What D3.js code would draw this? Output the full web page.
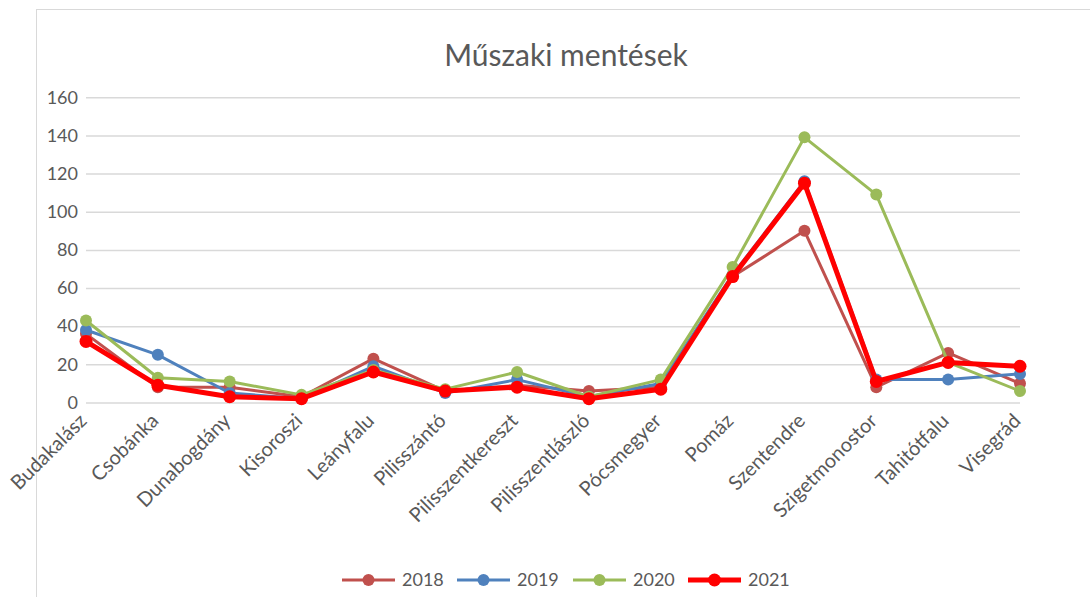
<!DOCTYPE html>
<html>
<head>
<meta charset="utf-8">
<script src="https://cdn.jsdelivr.net/npm/d3@7"></script>
<style>
  body { margin: 0; background: #fff; }
  text { font-family: Lato, "Open Sans", sans-serif; fill: #595959; }
</style>
</head>
<body>
<div id="chart"></div>
<script>
"use strict";

// chart data
const towns = ["Budakalász", "Csobánka", "Dunabogdány", "Kisoroszi", "Leányfalu", "Pilisszántó",
    "Pilisszentkereszt", "Pilisszentlászló", "Pócsmegyer", "Pomáz", "Szentendre",
    "Szigetmonostor", "Tahitótfalu", "Visegrád"];
const years = ["2018", "2019", "2020", "2021"];
const values2018 = [36, 8, 8, 3, 23, 6, 9, 6, 8, 66, 90, 8, 26, 10];
const values2019 = [38, 25, 5, 2, 19, 5, 12, 3, 10, 67, 116, 12, 12, 15];
const values2020 = [43, 13, 11, 4, 17, 7, 16, 3, 12, 71, 139, 109, 21, 6];
const values2021 = [32, 9, 3, 2, 16, 6, 8, 2, 7, 66, 115, 11, 21, 19];
const yTicks = [0, 20, 40, 60, 80, 100, 120, 140, 160];

const series = [
    { name: years[0], values: values2018, color: "#C0504D", width: 3, r: 6 },
    { name: years[1], values: values2019, color: "#4F81BD", width: 3, r: 6 },
    { name: years[2], values: values2020, color: "#9BBB59", width: 3, r: 6 },
    { name: years[3], values: values2021, color: "#FF0000", width: 5, r: 6.5 }
];

const width = 1090, height = 597;

const svg = d3.select("#chart").append("svg")
    .attr("width", width)
    .attr("height", height);

// chart area border
svg.append("rect")
    .attr("x", 36.5).attr("y", 9.5)
    .attr("width", 1100).attr("height", 700)
    .attr("fill", "none")
    .attr("stroke", "#d9d9d9");

// title
svg.append("text")
    .attr("x", 566).attr("y", 66)
    .attr("text-anchor", "middle")
    .style("font-size", "30px")
    .text("Műszaki mentések");

const x = d3.scalePoint().domain(towns).range([86, 1020]);
const y = d3.scaleLinear().domain([0, 160]).range([402.5, 97.3]);

// gridlines + y labels
const yAxis = svg.append("g")
    .attr("transform", "translate(86,0)")
    .call(d3.axisLeft(y).tickValues(yTicks).tickSize(-(1020 - 86)).tickPadding(8));
yAxis.select(".domain").remove();
yAxis.selectAll(".tick line").attr("stroke", "#d9d9d9").attr("stroke-width", 1.5);
yAxis.selectAll(".tick text")
    .style("font-size", "18px")
    .style("font-family", "Lato, sans-serif")
    .attr("fill", "#595959");

// x labels, rotated
svg.append("g").selectAll("text")
    .data(towns)
    .join("text")
    .attr("text-anchor", "end")
    .attr("transform", d => `translate(${x(d) + 2},${422}) rotate(-45)`)
    .style("font-size", "20px")
    .text(d => d);

// lines
const line = d3.line().x((d, i) => x(towns[i])).y(d => y(d));

const g = svg.append("g");
series.forEach(s => {
    g.append("path")
        .datum(s.values)
        .attr("d", line)
        .attr("fill", "none")
        .attr("stroke", s.color)
        .attr("stroke-width", s.width)
        .attr("stroke-linejoin", "round");
    g.selectAll(null)
        .data(s.values)
        .join("circle")
        .attr("cx", (d, i) => x(towns[i]))
        .attr("cy", d => y(d))
        .attr("r", s.r)
        .attr("fill", s.color);
});

// legend
const legendX = [342, 457, 573, 688];
const legend = svg.append("g");
series.forEach((s, i) => {
    const lx = legendX[i], ly = 580;
    legend.append("line")
        .attr("x1", lx).attr("x2", lx + 53)
        .attr("y1", ly).attr("y2", ly)
        .attr("stroke", s.color)
        .attr("stroke-width", s.width);
    legend.append("circle")
        .attr("cx", lx + 26.5).attr("cy", ly).attr("r", s.r)
        .attr("fill", s.color);
    legend.append("text")
        .attr("x", lx + 60).attr("y", ly + 6)
        .style("font-size", "18px")
        .text(s.name);
});
</script>
</body>
</html>
